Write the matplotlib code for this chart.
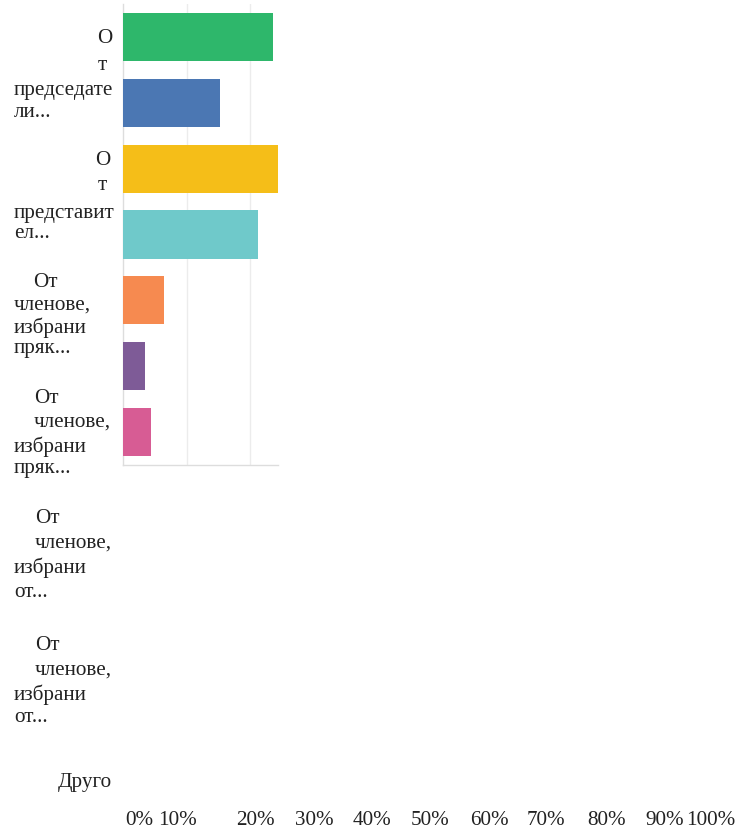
import matplotlib
matplotlib.use("Agg")
import matplotlib.pyplot as plt

# ---- data ----
categories = [
    "От председатели...",
    "От представител...",
    "От членове, избрани пряк... (1)",
    "От членове, избрани пряк... (2)",
    "От членове, избрани от... (1)",
    "От членове, избрани от... (2)",
    "Друго",
]
values = [23.6, 15.3, 25.0, 21.3, 6.5, 3.5, 4.4]
colors = ["#2EB76B", "#4B77B3", "#F5BE18", "#6FC9CA", "#F68A50", "#7E5B97", "#D75C94"]

# wrapped category labels as they appear on the left (line text, left x px, baseline y px)
label_lines = [
    ("О", 97, 43), ("т", 97.5, 70), ("председате", 14, 95), ("ли...", 14, 117),
    ("О", 95, 165), ("т", 97.5, 190), ("представит", 14, 218), ("ел...", 14, 238),
    ("От", 33, 287), ("членове,", 14, 310), ("избрани", 14, 333), ("пряк...", 14, 353),
    ("От", 34, 403), ("членове,", 34, 427), ("избрани", 14, 452), ("пряк...", 14, 473),
    ("От", 35, 523), ("членове,", 35, 548), ("избрани", 14, 573), ("от...", 14, 597),
    ("От", 35, 650), ("членове,", 35, 675), ("избрани", 14, 700), ("от...", 14, 722),
    ("Друго", 58, 787),
]
tick_labels = ["0%", "10%", "20%", "30%", "40%", "50%", "60%", "70%", "80%", "90%", "100%"]
tick_x_px = [125, 158, 236, 295, 353, 411, 470, 527, 587, 645, 686]

W, H = 743, 831
fig = plt.figure(figsize=(W / 100, H / 100), dpi=100)
fig.patch.set_facecolor("white")

ax = fig.add_axes([123 / W, (H - 465) / H, (278 - 123) / W, (465 - 4) / H])
ypos = list(range(len(values)))
ax.barh(ypos, values, height=0.73, color=colors, zorder=3)
ax.set_xlim(0, 24.4)
ax.set_ylim(6.5, -0.5)
ax.set_xticks([10, 20])
ax.set_xticklabels([])
ax.set_yticks([])
ax.tick_params(length=0)
ax.grid(axis="x", color="#ececec", linewidth=1, zorder=0)
for s in ["top", "right"]:
    ax.spines[s].set_visible(False)
for s in ["left", "bottom"]:
    ax.spines[s].set_color("#dddddd")
    ax.spines[s].set_linewidth(1)

font = dict(family="Liberation Serif", fontsize=15.2, color="#222222")
for txt, x, y in label_lines:
    fig.text(x / W, 1 - y / H, txt, ha="left", va="baseline", **font)
for txt, x in zip(tick_labels, tick_x_px):
    fig.text(x / W, 1 - 825 / H, txt, ha="left", va="baseline", **font)

fig.savefig("out.png", dpi=100, facecolor="white")
